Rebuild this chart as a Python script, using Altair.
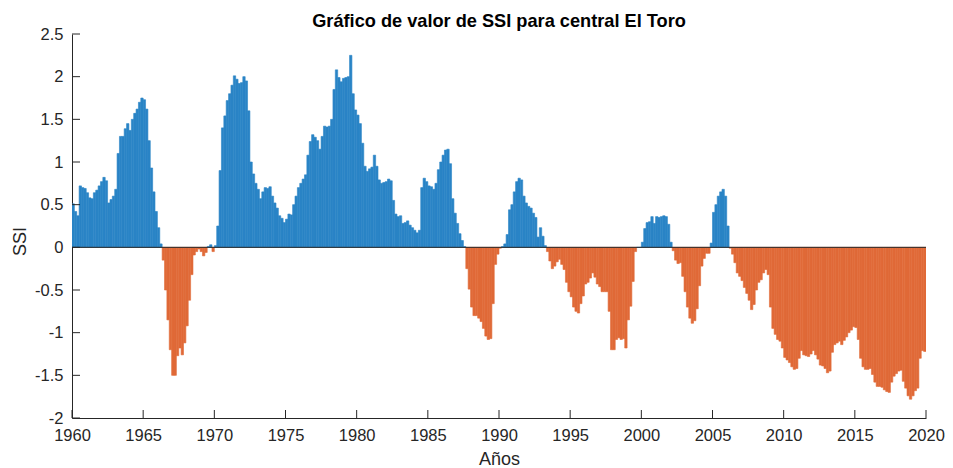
import altair as alt
import pandas as pd

# SSI values, 6 per year (bimonthly)
ssi_1960s = [
    0.51, 0.42, 0.37, 0.72, 0.70, 0.69,
    0.64, 0.58, 0.57, 0.64, 0.67, 0.72,
    0.77, 0.82, 0.78, 0.52, 0.56, 0.60,
    0.68, 1.10, 1.30, 1.30, 1.39, 1.45,
    1.37, 1.50, 1.57, 1.62, 1.70, 1.75,
    1.73, 1.62, 1.25, 0.93, 0.65, 0.42,
    0.23, 0.04, -0.15, -0.50, -0.85, -1.20,
    -1.50, -1.50, -1.27, -1.18, -1.26, -1.12,
    -0.92, -0.62, -0.32, -0.09, -0.05, -0.02,
    -0.05, -0.10, -0.06, 0.01, 0.03, -0.05,
]
ssi_1970s = [
    0.02, 0.25, 0.90, 1.40, 1.54, 1.72,
    1.80, 1.90, 2.01, 1.97, 1.92, 1.93,
    2.00, 1.95, 1.60, 1.00, 0.86, 0.75,
    0.68, 0.57, 0.65, 0.70, 0.69, 0.71,
    0.60, 0.52, 0.46, 0.37, 0.34, 0.29,
    0.33, 0.39, 0.38, 0.50, 0.60, 0.70,
    0.75, 0.80, 0.85, 1.08, 1.24, 1.32,
    1.29, 1.25, 1.15, 1.30, 1.42, 1.41,
    1.42, 1.50, 1.85, 2.08, 1.99, 1.94,
    1.98, 1.99, 2.00, 2.25, 1.80, 1.61,
]
ssi_1980s = [
    1.55, 1.45, 1.22, 0.95, 0.89, 0.92,
    0.94, 1.08, 0.95, 0.79, 0.75, 0.76,
    0.77, 0.80, 0.78, 0.55, 0.39, 0.36,
    0.37, 0.28, 0.29, 0.31, 0.26, 0.23,
    0.20, 0.17, 0.20, 0.70, 0.81, 0.77,
    0.72, 0.71, 0.68, 0.75, 0.91, 1.00,
    1.08, 1.14, 1.15, 0.98, 0.57, 0.40,
    0.28, 0.16, 0.08, 0.01, -0.25, -0.49,
    -0.70, -0.80, -0.80, -0.83, -0.87, -0.95,
    -1.04, -1.08, -1.07, -0.66, -0.20, -0.08,
]
ssi_1990s = [
    -0.01, 0.01, 0.04, 0.15, 0.44, 0.50,
    0.65, 0.77, 0.81, 0.79, 0.60, 0.52,
    0.48, 0.46, 0.40, 0.35, 0.12, 0.23,
    0.13, 0.02, -0.05, -0.16, -0.25, -0.22,
    -0.17, -0.14, -0.20, -0.26, -0.41, -0.52,
    -0.58, -0.70, -0.75, -0.77, -0.66, -0.57,
    -0.43, -0.41, -0.36, -0.30, -0.35, -0.43,
    -0.46, -0.52, -0.52, -0.52, -0.75, -1.20,
    -1.20, -1.08, -1.06, -1.08, -1.07, -1.18,
    -0.85, -0.69, -0.40, -0.05, 0.00, 0.00,
]
ssi_2000s = [
    0.06, 0.22, 0.29, 0.30, 0.36, 0.28,
    0.36, 0.35, 0.36, 0.37, 0.36, 0.27,
    0.06, -0.04, -0.15, -0.19, -0.18, -0.34,
    -0.52, -0.70, -0.83, -0.89, -0.86, -0.72,
    -0.45, -0.22, -0.13, -0.07, -0.07, 0.05,
    0.41, 0.50, 0.60, 0.65, 0.68, 0.60,
    0.25, -0.01, -0.08, -0.18, -0.30, -0.34,
    -0.39, -0.47, -0.54, -0.62, -0.73, -0.67,
    -0.50, -0.41, -0.38, -0.30, -0.26, -0.32,
    -0.70, -0.95, -1.02, -1.08, -1.10, -1.18,
]
ssi_2010s = [
    -1.29, -1.32, -1.35, -1.40, -1.43, -1.42,
    -1.30, -1.21, -1.26, -1.27, -1.28, -1.25,
    -1.21, -1.26, -1.31, -1.38, -1.39, -1.42,
    -1.47, -1.45, -1.23, -1.14, -1.12, -1.10,
    -1.14, -1.09, -1.05, -1.00, -0.97, -0.93,
    -0.94, -1.08, -1.30, -1.40, -1.43, -1.43,
    -1.42, -1.49, -1.58, -1.63, -1.63, -1.64,
    -1.67, -1.69, -1.70, -1.58, -1.51, -1.48,
    -1.45, -1.44, -1.57, -1.65, -1.74, -1.78,
    -1.74, -1.68, -1.65, -1.30, -1.21, -1.22,
]

start_year = 1960
steps_per_year = 6
x_ticks = list(range(1960, 2021, 5))
y_ticks = [-2, -1.5, -1, -0.5, 0, 0.5, 1, 1.5, 2, 2.5]

values = ssi_1960s + ssi_1970s + ssi_1980s + ssi_1990s + ssi_2000s + ssi_2010s
df = pd.DataFrame({
    "t": [start_year + i / steps_per_year for i in range(len(values))],
    "ssi": values,
})
df["t2"] = df["t"] + 1 / steps_per_year
df["signo"] = ["pos" if v >= 0 else "neg" for v in df["ssi"]]

W, H = 854, 384
AX = "#262626"
FONT = "Liberation Sans"
BLUE = "#2a84c6"
ORANGE = "#e06a38"

xscale = alt.Scale(domain=[1960, 2020], nice=False, zero=False)
yscale = alt.Scale(domain=[-2, 2.5], nice=False, zero=False)
xaxis = alt.Axis(values=x_ticks, title="Años", labelExpr="'' + datum.value",
                 tickSize=0, labelPadding=9, labelFlush=False, titlePadding=7,
                 grid=False)
yaxis = alt.Axis(values=y_ticks, title="SSI", labelExpr="'' + datum.value",
                 tickSize=0, labelPadding=9, labelFlush=False, titleY=207,
                 titlePadding=5, grid=False)
sign_scale = alt.Scale(domain=["pos", "neg"], range=[BLUE, ORANGE])

bars = alt.Chart(df).mark_bar(clip=True, strokeWidth=0.6).encode(
    x=alt.X("t:Q", scale=xscale, axis=xaxis),
    x2="t2:Q",
    y=alt.Y("ssi:Q", scale=yscale, axis=yaxis),
    y2=alt.datum(0),
    color=alt.Color("signo:N", scale=sign_scale, legend=None),
    stroke=alt.Stroke("signo:N", scale=sign_scale, legend=None),
)

zero_line = alt.Chart(pd.DataFrame({"ssi": [0]})).mark_rule(color=AX, strokeWidth=1).encode(
    y=alt.Y("ssi:Q", scale=yscale, axis=yaxis)
)

xt = alt.Chart(pd.DataFrame({"t": x_ticks})).mark_rule(color=AX, strokeWidth=1).encode(
    x=alt.X("t:Q", scale=xscale, axis=xaxis),
    y=alt.value(H - 8), y2=alt.value(H),
)
yt = alt.Chart(pd.DataFrame({"ssi": y_ticks})).mark_rule(color=AX, strokeWidth=1).encode(
    y=alt.Y("ssi:Q", scale=yscale, axis=yaxis),
    x=alt.value(0), x2=alt.value(8),
)

chart = alt.layer(bars, zero_line, xt, yt).properties(
    width=W, height=H,
    title=alt.TitleParams("Gráfico de valor de SSI para central El Toro", font=FONT,
                          fontSize=18.2, fontWeight="bold", color="black",
                          anchor="middle", frame="group", offset=4, dy=9),
    autosize=alt.AutoSizeParams(type="none"),
    padding={"left": 64, "top": 26, "right": 19, "bottom": 50},
).configure(background="white").configure_view(
    stroke="transparent"
).configure_axis(
    domainColor=AX, domainWidth=1, labelColor=AX, labelFont=FONT, labelFontSize=16.5,
    titleColor=AX, titleFont=FONT, titleFontSize=18, titleFontWeight="normal",
)

chart.save("out.html", embed_options={"renderer": "svg", "actions": False})
